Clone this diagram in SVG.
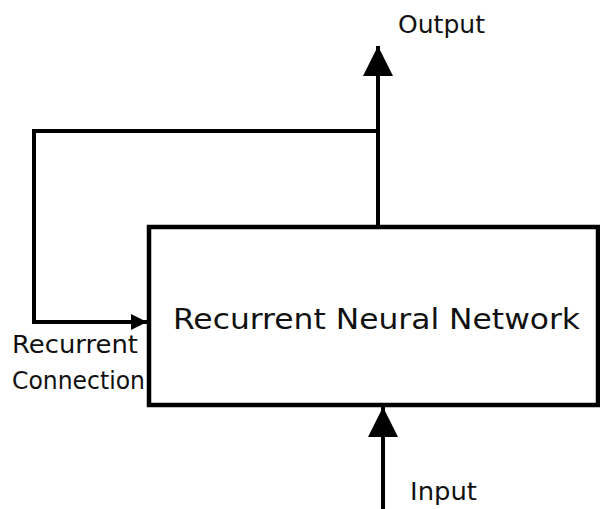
<svg xmlns="http://www.w3.org/2000/svg" width="600" height="509" viewBox="0 0 600 509">
  <style>
    .wire { fill: none; stroke: #000; stroke-width: 4; }
    .box { fill: #fff; stroke: #000; stroke-width: 4.5; }
    .lbl { font-family: "DejaVu Sans", "Noto Sans", sans-serif; fill: #111; }
  </style>
  <defs>
    <marker id="head" viewBox="0 0 10 10" refX="10" refY="5" markerWidth="30" markerHeight="30" markerUnits="userSpaceOnUse" orient="auto">
      <path d="M0,0 L10,5 L0,10 Z" fill="#000"/>
    </marker>
    <marker id="headSmall" viewBox="0 0 10 10" refX="10" refY="5" markerWidth="18" markerHeight="16" markerUnits="userSpaceOnUse" orient="auto">
      <path d="M0,0 L10,5 L0,10 Z" fill="#000"/>
    </marker>
  </defs>

  <g id="connectors">
    <!-- output from the top of the network -->
    <line class="wire" x1="378" y1="227" x2="378" y2="46" marker-end="url(#head)"/>
    <!-- recurrent loop back into the left side -->
    <polyline class="wire" points="378,131 34,131 34,322 147,322" marker-end="url(#headSmall)"/>
    <!-- input entering from below -->
    <line class="wire" x1="383" y1="509" x2="383" y2="407" marker-end="url(#head)"/>
  </g>

  <g id="rnn">
    <rect class="box" x="149" y="227" width="449" height="178"/>
    <text class="lbl" x="173" y="329" font-size="29" textLength="407" lengthAdjust="spacingAndGlyphs">Recurrent Neural Network</text>
  </g>

  <g id="labels">
    <text class="lbl" x="398" y="33" font-size="24" textLength="87" lengthAdjust="spacingAndGlyphs">Output</text>
    <text class="lbl" x="12" y="353" font-size="24" textLength="126" lengthAdjust="spacingAndGlyphs">Recurrent</text>
    <text class="lbl" x="12" y="389" font-size="24" textLength="133" lengthAdjust="spacingAndGlyphs">Connection</text>
    <text class="lbl" x="410" y="500" font-size="24" textLength="67" lengthAdjust="spacingAndGlyphs">Input</text>
  </g>
</svg>
